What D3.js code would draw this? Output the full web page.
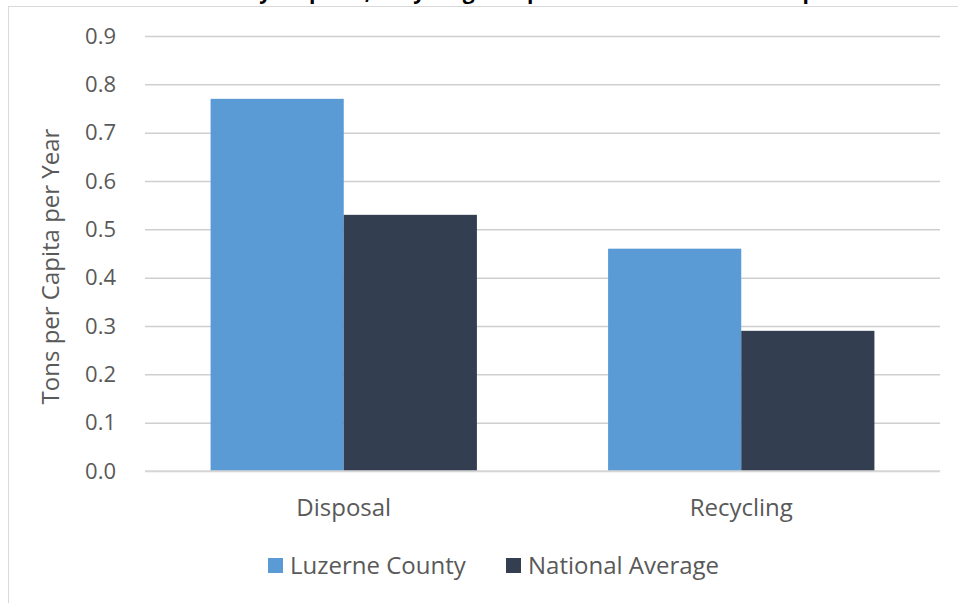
<!DOCTYPE html>
<html>
<head>
<meta charset="utf-8">
<script src="https://cdn.jsdelivr.net/npm/d3@7"></script>
<style>
  html, body { margin: 0; padding: 0; background: #fff; }
  svg { display: block; }
  text { font-family: "Open Sans", "Noto Sans", sans-serif; }
</style>
</head>
<body>
<div id="chart"></div>
<script>
const title = "County Disposal, Recycling Comparison to National Per Capita";
const categories = ["Disposal", "Recycling"];
const seriesNames = ["Luzerne County", "National Average"];
const luzerneValues = [0.77, 0.46];
const nationalValues = [0.53, 0.29];
const yTicks = [0, 0.1, 0.2, 0.3, 0.4, 0.5, 0.6, 0.7, 0.8, 0.9];
const yAxisTitle = "Tons per Capita per Year";
const colors = ["#5B9BD5", "#333F50"];

const W = 958, H = 603;
const margin = { left: 145, right: 18, top: 36, bottom: 132 };
const svg = d3.select("#chart").append("svg").attr("width", W).attr("height", H);

// chart border
svg.append("rect").attr("x", 8.5).attr("y", 6.5).attr("width", W + 10).attr("height", H + 10)
  .attr("fill", "#fff").attr("stroke", "#d9d9d9").attr("stroke-width", 1);

// title (mostly cropped above the frame)
svg.append("text").attr("x", 520).attr("y", -1).attr("text-anchor", "middle")
  .attr("font-size", 21).attr("font-weight", "bold").attr("fill", "#000").text(title);

const x0 = d3.scaleBand().domain(categories).range([margin.left, W - margin.right])
  .paddingInner(0.33).paddingOuter(0.165);
const x1 = d3.scaleBand().domain(seriesNames).range([0, x0.bandwidth()]);
const y = d3.scaleLinear().domain([0, 0.9]).range([H - margin.bottom, margin.top]);

// gridlines
const yAxis = d3.axisLeft(y).tickValues(yTicks).tickFormat(d3.format(".1f"))
  .tickSize(-(W - margin.right - margin.left)).tickPadding(29);
const gy = svg.append("g").attr("transform", `translate(${margin.left},0)`).call(yAxis);
gy.select(".domain").remove();
gy.selectAll(".tick line").attr("stroke", "#cfcfcf").attr("stroke-width", 1.5);
gy.selectAll(".tick text").attr("fill", "#595959").attr("font-size", 22)
  .attr("font-family", "Open Sans, sans-serif");

// bars
const rows = categories.map((c, i) => ({ cat: c, vals: [luzerneValues[i], nationalValues[i]] }));
const groups = svg.append("g").selectAll("g").data(rows).join("g")
  .attr("transform", d => `translate(${x0(d.cat)},0)`);
groups.selectAll("rect").data(d => d.vals.map((v, j) => ({ s: seriesNames[j], v, j })))
  .join("rect")
  .attr("x", d => x1(d.s)).attr("width", x1.bandwidth())
  .attr("y", d => y(d.v)).attr("height", d => y(0) - y(d.v))
  .attr("fill", d => colors[d.j]);

// baseline
svg.append("line").attr("x1", margin.left).attr("x2", W - margin.right)
  .attr("y1", y(0)).attr("y2", y(0)).attr("stroke", "#d9d9d9").attr("stroke-width", 1.5);

// category axis labels
const xAxis = d3.axisBottom(x0).tickSize(0).tickPadding(28);
const gx = svg.append("g").attr("transform", `translate(0,${y(0)})`).call(xAxis);
gx.select(".domain").remove();
gx.selectAll(".tick text").attr("fill", "#595959").attr("font-size", 24)
  .attr("font-family", "Open Sans, sans-serif");

// y axis title
svg.append("text").attr("transform", `translate(59,${(y(0) + y(0.9)) / 2 + 13}) rotate(-90)`)
  .attr("text-anchor", "middle").attr("fill", "#595959").attr("font-size", 24).text(yAxisTitle);

// legend
const legendX = [268, 506];
const lg = svg.append("g").selectAll("g").data(seriesNames).join("g")
  .attr("transform", (d, i) => `translate(${legendX[i]},558)`);
lg.append("rect").attr("width", 15).attr("height", 15).attr("fill", (d, i) => colors[i]);
lg.append("text").attr("x", 22).attr("y", 8).attr("dy", "0.35em")
  .attr("fill", "#595959").attr("font-size", 24).text(d => d);
</script>
</body>
</html>
